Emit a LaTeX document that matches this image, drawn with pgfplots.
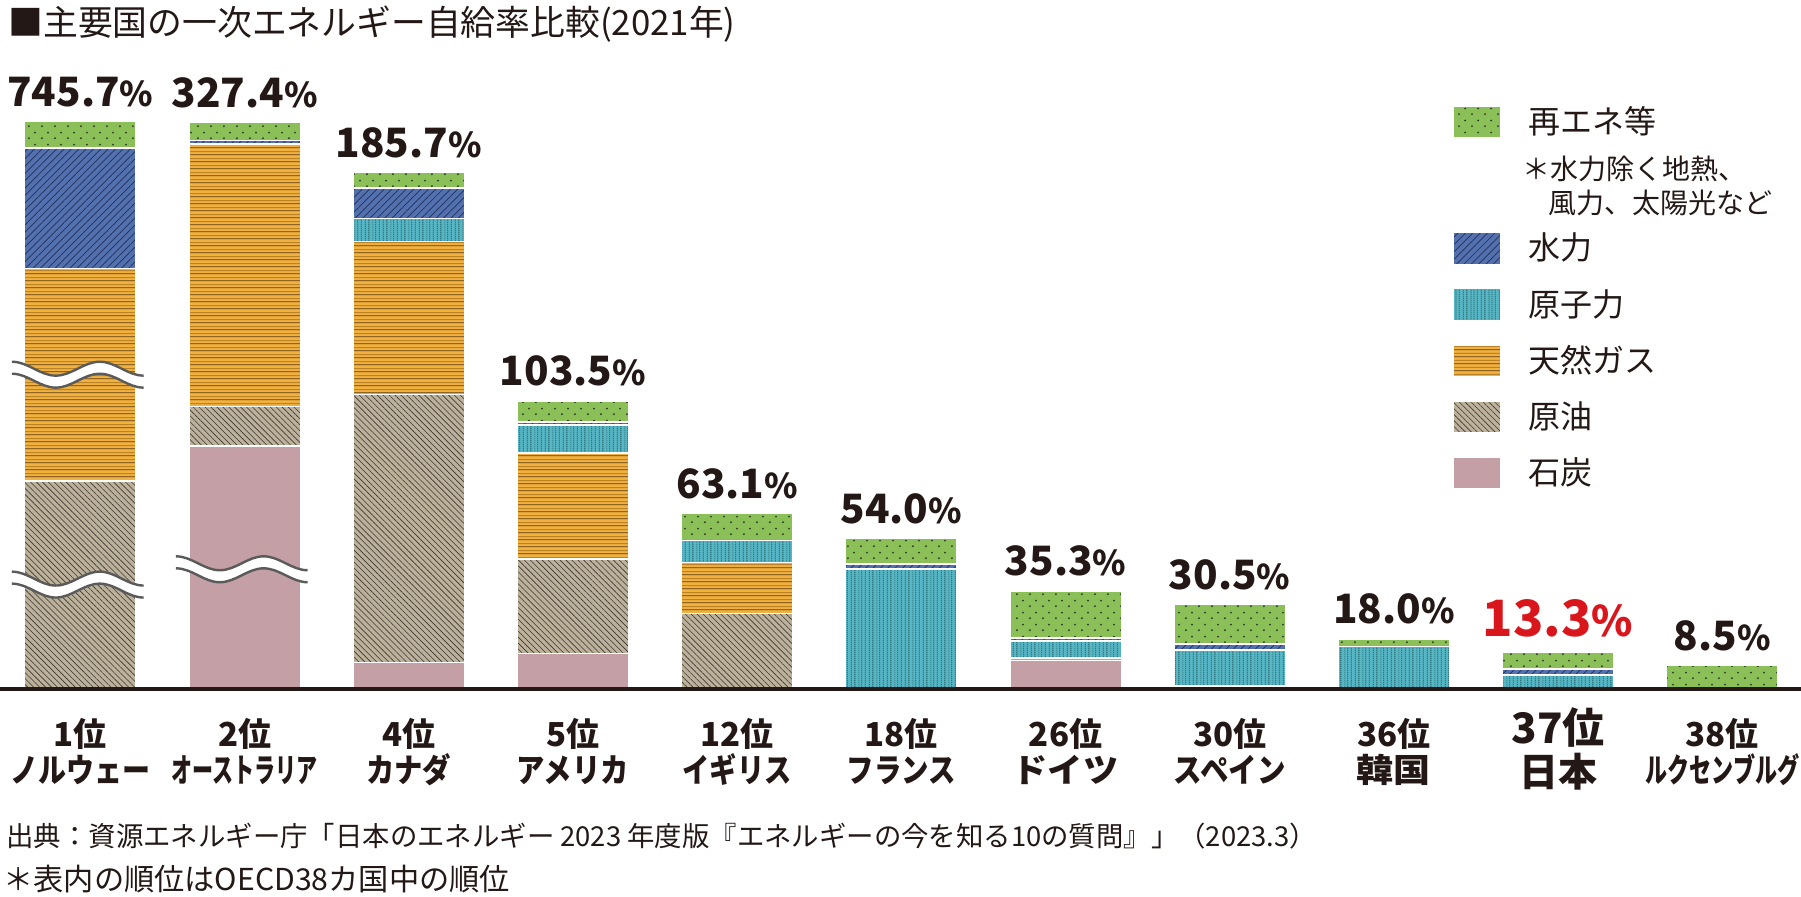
\documentclass[border=0pt]{standalone}
\usepackage{fontspec}
\setmainfont{Noto Sans CJK JP}
\usepackage{graphicx}
\usepackage{pgfplots}
\pgfplotsset{compat=1.18}
\usetikzlibrary{patterns.meta}

\definecolor{cren}{HTML}{8BBF58}
\definecolor{cdot}{HTML}{2E3A26}
\definecolor{chyd}{HTML}{5371AF}
\definecolor{chydl}{HTML}{22305A}
\definecolor{cnuc}{HTML}{55B6C4}
\definecolor{cnucl}{HTML}{245C66}
\definecolor{cgas}{HTML}{F2B13E}
\definecolor{cgasd}{HTML}{5A3D12}
\definecolor{cgasm}{HTML}{B98326}
\definecolor{coil}{HTML}{BCB19B}
\definecolor{coill}{HTML}{3D3630}
\definecolor{ccoal}{HTML}{C49FA5}
\definecolor{jred}{HTML}{D9161C}
\definecolor{wavegray}{HTML}{5A5A5A}
\definecolor{txt}{HTML}{231815}

\tikzdeclarepattern{
  name=rdots, type=uncolored,
  bounding box={(0pt,0pt) and (6.5pt,6pt)},
  tile size={(6.5pt,6pt)},
  code={\fill (1.6pt,1.5pt) circle (0.55pt); \fill (4.85pt,4.5pt) circle (0.55pt);}
}
\tikzdeclarepattern{
  name=nuclines, type=uncolored,
  bounding box={(0pt,0pt) and (9pt,1pt)},
  tile size={(9pt,1pt)},
  code={\fill (0.4pt,0pt) rectangle (0.8pt,1pt); \fill (2.6pt,0pt) rectangle (2.95pt,1pt);
        \fill (4.4pt,0pt) rectangle (4.9pt,1pt); \fill (6.6pt,0pt) rectangle (6.95pt,1pt);
        \fill (8.1pt,0pt) rectangle (8.5pt,1pt);}
}
\tikzdeclarepattern{
  name=gaslines, type=colored,
  bounding box={(0pt,0pt) and (1pt,3.6pt)},
  tile size={(1pt,3.6pt)},
  code={\fill[cgasd] (0pt,0.5pt) rectangle (1pt,0.9pt); \fill[cgasm] (0pt,2.2pt) rectangle (1pt,2.75pt);}
}

\pgfplotsset{
 sw/.style={legend image code/.code={\draw[##1] (0pt,-8pt) rectangle (23.5pt,8pt);}},
 sren/.style={draw=white, line width=0.8pt, preaction={fill=cren}, preaction={pattern=rdots, pattern color=cdot}},
 shyd/.style={draw=white, line width=0.8pt, preaction={fill=chyd}, preaction={pattern={Lines[angle=45,distance=2.6pt,line width=0.35pt]}, pattern color=chydl}},
 snuc/.style={draw=white, line width=0.8pt, preaction={fill=cnuc}, preaction={pattern=nuclines, pattern color=cnucl}},
 sgas/.style={draw=white, line width=0.8pt, preaction={fill=cgas}, preaction={pattern=gaslines}},
 soil/.style={draw=white, line width=0.8pt, preaction={fill=coil}, preaction={pattern={Lines[angle=-45,distance=2.1pt,line width=0.3pt]}, pattern color=coill}},
 scoal/.style={draw=white, line width=0.8pt, fill=ccoal},
 frame/.style={at={(0,0)}, anchor=south west, scale only axis, width=900.5pt, height=344.5pt,
   xmin=-0.4896, xmax=10.4793, ymin=0, ymax=247.49, hide axis, clip=false},
}

\newcommand\vlab{\expandafter\vlabp\pgfplotspointmeta\relax}
\def\vlabp#1#2\relax{\ifx J#1\textcolor{jred}{\fontsize{25}{25}\selectfont\bfseries #2{\fontsize{21}{21}\selectfont\%}}\else{\fontsize{20.2}{21}\selectfont\bfseries #1#2{\fontsize{17}{17}\selectfont\%}}\fi}

\newcommand\catfont{\fontsize{16.5}{18}\selectfont\bfseries}
\newcommand\cat[4]{%
 \node[anchor=base, inner sep=0pt, font=\catfont, text=txt] at (axis cs:#1,-20.6) {#2};
 \node[anchor=base, inner sep=0pt, font=\catfont, text=txt] at (axis cs:#1,-33.5) {\resizebox{#3}{\height}{#4}};}
\newcommand\wave[1]{\draw[white,line width=6pt]#1; \draw[wavegray,line width=1.2pt,yshift=3pt]#1; \draw[wavegray,line width=1.2pt,yshift=-3pt]#1;}
\newcommand\lrule{\rule[-2pt]{0pt}{15.5pt}}

\begin{document}
\begin{tikzpicture}
\begin{axis}[
 frame, name=ax,
 ybar stacked, bar width=0.68,
 legend style={at={(axis cs:8.359,209.6)}, anchor=north west, draw=none, fill=none,
   inner sep=0pt, outer sep=0pt, row sep=11.3pt, column sep=13.7pt,
   font=\fontsize{16}{18}\selectfont, nodes={inner sep=0pt, text depth={}, text=txt}},
 legend cell align=left,
]
% stacked from bottom: coal, oil, gas, nuclear, hydro, renewables (displayed heights, %)
\addplot[scoal, forget plot] coordinates {(0,0) (1,87.3) (2,9.5) (3,12.8) (4,0) (5,0) (6,10.2) (7,0.5) (8,0) (9,0) (10,0)};
\addplot[soil, forget plot] coordinates {(0,74.7) (1,14.1) (2,96.3) (3,34.0) (4,27.1) (5,0) (6,0) (7,0.6) (8,0) (9,0) (10,0)};
\addplot[sgas, forget plot] coordinates {(0,76.4) (1,94.3) (2,55.0) (3,38.0) (4,18.3) (5,0) (6,1.0) (7,0) (8,0) (9,0) (10,0)};
\addplot[snuc, forget plot] coordinates {(0,0) (1,0) (2,8.2) (3,10.1) (4,8.0) (5,43.0) (6,6.1) (7,12.8) (8,15.3) (9,5.0) (10,0)};
\addplot[shyd, forget plot] coordinates {(0,43.2) (1,1.3) (2,11.0) (3,1.0) (4,0) (5,2.0) (6,1.0) (7,2.2) (8,0) (9,2.2) (10,0)};
\addplot[sren, forget plot] coordinates {(0,9.7) (1,6.6) (2,5.6) (3,7.6) (4,9.7) (5,9.0) (6,17.0) (7,14.4) (8,2.7) (9,6.1) (10,8.5)};

\addlegendimage{sw, sren}\addlegendentry{\lrule 再エネ等}
\addlegendimage{empty legend}\addlegendentry{\rule[-11.14pt]{0pt}{23.7pt}\fontsize{14}{15}\selectfont\hspace{-3pt}\smash{\rlap{\raisebox{3.4pt}{＊水力除く地熱、}}}\smash{\raisebox{-13.4pt}{\hspace{12.7pt}風力、太陽光など}}}
\addlegendimage{sw, shyd}\addlegendentry{\lrule 水力}
\addlegendimage{sw, snuc}\addlegendentry{\lrule 原子力}
\addlegendimage{sw, sgas}\addlegendentry{\lrule 天然ガス}
\addlegendimage{sw, soil}\addlegendentry{\lrule 原油}
\addlegendimage{sw, scoal}\addlegendentry{\lrule 石炭}
\end{axis}

\begin{axis}[frame]
% self-sufficiency ratio labels, placed at the drawn bar tops
\addplot[only marks, mark=text, text mark={}, point meta=explicit symbolic,
  nodes near coords={\vlab},
  nodes near coords style={anchor=base, yshift=7.5pt, inner sep=0pt, text=txt}]
  table[x=x, y=y, meta=lab, row sep=\\] {x y lab\\ 0 204.0 745.7\\ 1 203.6 327.4\\ 2 185.6 185.7\\ 3 103.5 103.5\\ 4 63.1 63.1\\ 5 54.0 54.0\\ 6 35.3 35.3\\ 7 30.5 30.5\\ 8 18.0 18.0\\ 9 13.3 J13.3\\ 10 8.5 8.5\\};

% break marks
\wave{(axis cs:-0.417,115.4) cos (axis cs:-0.283,112.9) sin (axis cs:-0.150,110.4) cos (axis cs:-0.016,112.9) sin (axis cs:0.118,115.4) cos (axis cs:0.251,112.9) sin (axis cs:0.385,110.4)}
\wave{(axis cs:-0.417,40.0) cos (axis cs:-0.283,37.5) sin (axis cs:-0.150,35.0) cos (axis cs:-0.016,37.5) sin (axis cs:0.118,40.0) cos (axis cs:0.251,37.5) sin (axis cs:0.385,35.0)}
\wave{(axis cs:0.582,45.5) cos (axis cs:0.716,43.0) sin (axis cs:0.849,40.5) cos (axis cs:0.983,43.0) sin (axis cs:1.116,45.5) cos (axis cs:1.250,43.0) sin (axis cs:1.384,40.5)}

% baseline
\draw[line width=1.8pt, txt] (axis cs:-0.4896,0) -- (axis cs:10.4793,0);

% categories
\cat{0}{1位}{70pt}{ノルウェー}
\cat{1}{2位}{73pt}{オーストラリア}
\cat{2}{4位}{42.5pt}{カナダ}
\cat{3}{5位}{56pt}{アメリカ}
\cat{4}{12位}{54.5pt}{イギリス}
\cat{5}{18位}{54.5pt}{フランス}
\cat{6}{26位}{53pt}{ドイツ}
\cat{7}{30位}{56pt}{スペイン}
\cat{8}{36位}{37pt}{韓国}
\node[anchor=base, inner sep=0pt, text=txt] at (axis cs:9,-19.4) {\fontsize{21}{24}\selectfont\bfseries 37位};
\node[anchor=base, inner sep=0pt, text=txt] at (axis cs:9,-35.0) {\fontsize{19.5}{22}\selectfont\bfseries 日本};
\cat{10}{38位}{77pt}{ルクセンブルグ}

% title and notes
\node[anchor=base west, inner sep=0pt, text=txt, font=\fontsize{17.4}{19}\selectfont] at (axis cs:-0.44,234.7) {■主要国の一次エネルギー自給率比較(2021年)};
\node[anchor=base west, inner sep=0pt, text=txt, font=\fontsize{13.7}{15}\selectfont] at (axis cs:-0.453,-56.4) {出典：資源エネルギー庁「日本のエネルギー 2023 年度版『エネルギーの今を知る10の質問』」（2023.3）};
\node[anchor=base west, inner sep=0pt, text=txt, font=\fontsize{15.1}{16}\selectfont] at (axis cs:-0.471,-72.2) {＊表内の順位はOECD38カ国中の順位};
\end{axis}
\pgfresetboundingbox
\path[use as bounding box] ([yshift=-104pt]ax.south west) rectangle (ax.north east);
\end{tikzpicture}
\end{document}
